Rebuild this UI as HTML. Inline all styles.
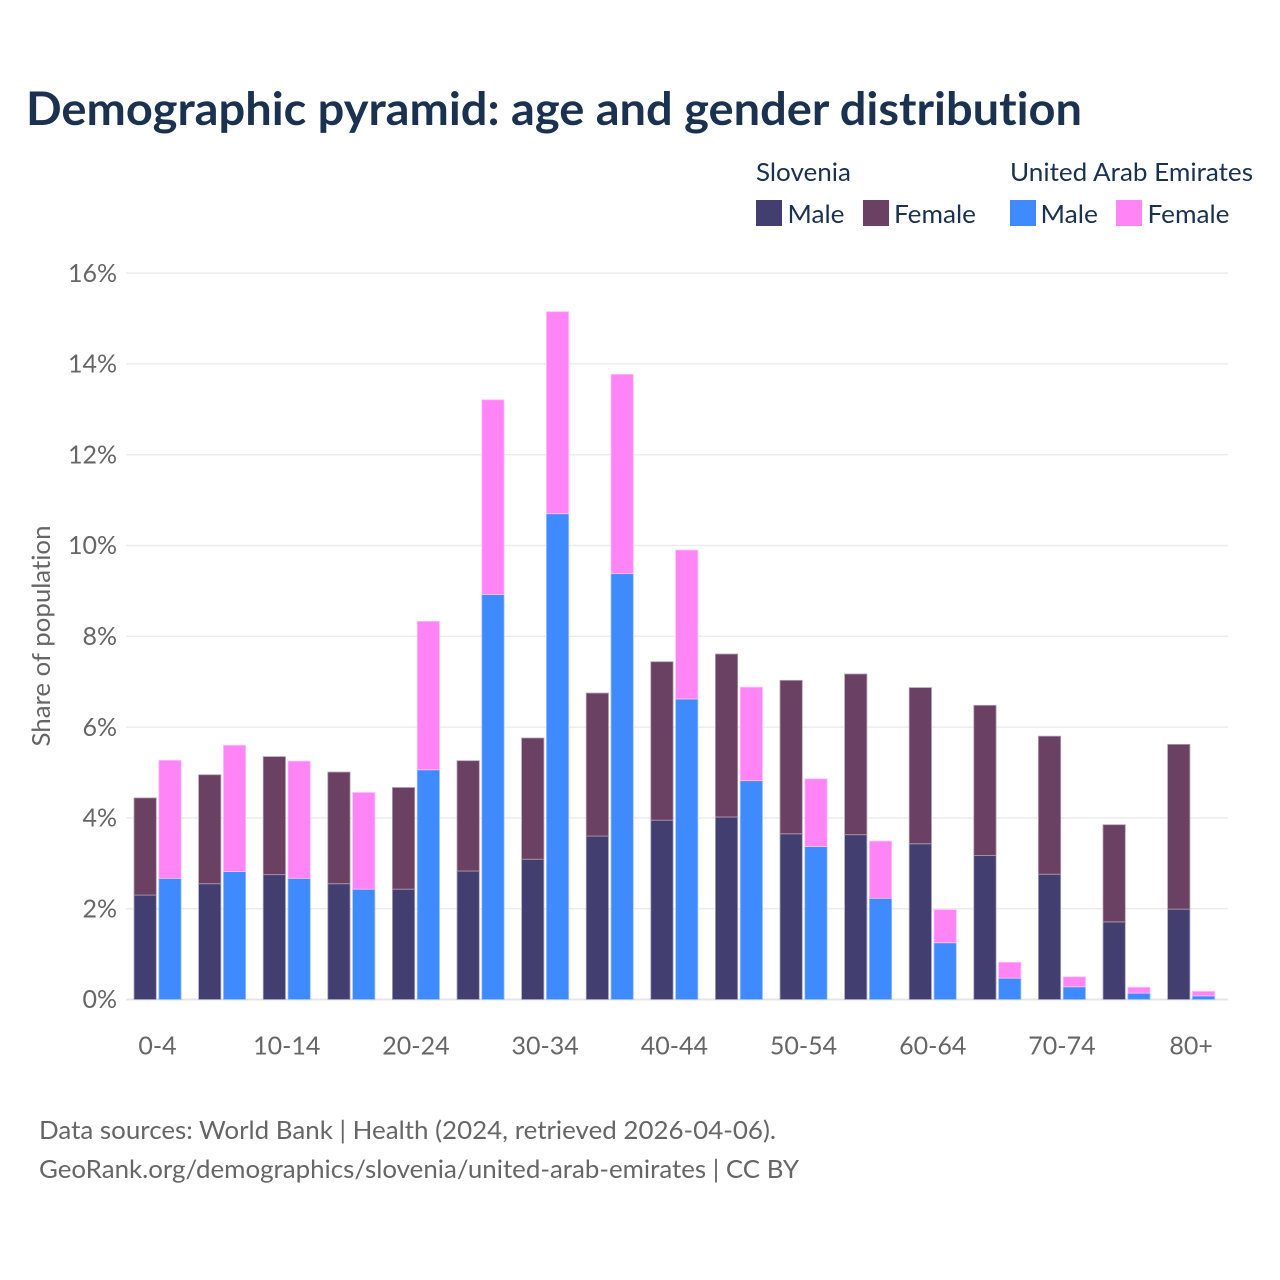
<!DOCTYPE html>
<html lang="en">
<head>
<meta charset="utf-8">
<title>Demographic pyramid</title>
<style>
html,body{margin:0;padding:0;background:#fff;width:1280px;height:1280px;overflow:hidden}
svg{display:block}
text{font-family:"Lato","Carlito","Liberation Sans",sans-serif;font-variant-ligatures:none;font-feature-settings:"liga" 0,"clig" 0}
</style>
</head>
<body>
<svg id="chart" xmlns="http://www.w3.org/2000/svg" width="1280" height="1280" viewBox="0 0 1280 1280">
  <rect width="1280" height="1280" fill="#ffffff"/>
  <text x="26" y="125" font-size="46" font-weight="700" fill="#1a3150" textLength="1056" lengthAdjust="spacingAndGlyphs">Demographic pyramid: age and gender distribution</text>

  <g font-size="25" fill="#1a3150">
    <text x="756" y="181" textLength="95" lengthAdjust="spacingAndGlyphs">Slovenia</text>
    <text x="1010" y="181" textLength="243" lengthAdjust="spacingAndGlyphs">United Arab Emirates</text>
    <g>
      <rect x="756" y="200" width="26" height="26" fill="#433e70"/>
      <text x="787.5" y="223" textLength="57" lengthAdjust="spacingAndGlyphs">Male</text>
    </g>
    <g>
      <rect x="863" y="200" width="26" height="26" fill="#6a4162"/>
      <text x="894" y="223" textLength="82" lengthAdjust="spacingAndGlyphs">Female</text>
    </g>
    <g>
      <rect x="1010" y="200" width="26" height="26" fill="#3f8aff"/>
      <text x="1040.5" y="223" textLength="57.5" lengthAdjust="spacingAndGlyphs">Male</text>
    </g>
    <g>
      <rect x="1116" y="200" width="26" height="26" fill="#ff85f7"/>
      <text x="1147.5" y="223" textLength="82" lengthAdjust="spacingAndGlyphs">Female</text>
    </g>
  </g>

  <text transform="translate(50,636) rotate(-90)" text-anchor="middle" font-size="25" fill="#666666" textLength="221" lengthAdjust="spacingAndGlyphs">Share of population</text>

  <g id="grid"></g>
  <g id="yticks" font-size="25" fill="#666666" text-anchor="end"></g>
  <g id="bars"></g>
  <g id="xticks" font-size="25" fill="#666666" text-anchor="middle"></g>

  <g font-size="25" fill="#666666">
    <text x="39" y="1139" textLength="737" lengthAdjust="spacingAndGlyphs">Data sources: World Bank | Health (2024, retrieved 2026-04-06).</text>
    <text x="39" y="1178" textLength="760" lengthAdjust="spacingAndGlyphs">GeoRank.org/demographics/slovenia/united-arab-emirates | CC BY</text>
  </g>
</svg>
<script>
const ageGroups = ["0-4","5-9","10-14","15-19","20-24","25-29","30-34","35-39","40-44","45-49","50-54","55-59","60-64","65-69","70-74","75-79","80+"];
const sloveniaMale = [2.30,2.55,2.75,2.55,2.43,2.83,3.09,3.60,3.95,4.02,3.65,3.63,3.43,3.17,2.76,1.71,1.99];
const sloveniaFemale = [2.14,2.40,2.60,2.46,2.24,2.43,2.67,3.15,3.49,3.59,3.38,3.54,3.44,3.31,3.04,2.14,3.63];
const uaeMale = [2.67,2.82,2.67,2.43,5.06,8.92,10.70,9.38,6.62,4.82,3.37,2.23,1.25,0.47,0.28,0.14,0.08];
const uaeFemale = [2.60,2.78,2.58,2.13,3.27,4.29,4.45,4.39,3.28,2.06,1.49,1.26,0.73,0.35,0.22,0.13,0.10];
const yTicks = [0,2,4,6,8,10,12,14,16];
const xTickLabels = ["0-4","10-14","20-24","30-34","40-44","50-54","60-64","70-74","80+"];

const SVG_NS = "http://www.w3.org/2000/svg";
const yScale = v => 999.5 - v * 45.4;
const xBand = i => 134 + i * 64.6;
const BAR_W = 22.3;
const UAE_OFFSET = 24.8;

const grid = document.getElementById("grid");
const yticksG = document.getElementById("yticks");
yTicks.forEach(function (t) {
  const line = document.createElementNS(SVG_NS, "line");
  line.setAttribute("x1", 126);
  line.setAttribute("x2", 1228);
  line.setAttribute("y1", yScale(t));
  line.setAttribute("y2", yScale(t));
  line.setAttribute("stroke", t === 0 ? "#e6e6e6" : "#ececec");
  line.setAttribute("stroke-width", t === 0 ? 2 : 1.5);
  
  
  grid.appendChild(line);

  const label = document.createElementNS(SVG_NS, "text");
  label.setAttribute("x", 117);
  label.setAttribute("y", yScale(t) + 8.7);
  label.textContent = t + "%";
  
  
  yticksG.appendChild(label);
});

const barsG = document.getElementById("bars");
function addBar(x, base, value, fill, stroke, name) {
  const r = document.createElementNS(SVG_NS, "rect");
  r.setAttribute("x", x);
  r.setAttribute("y", yScale(base + value));
  r.setAttribute("width", BAR_W);
  r.setAttribute("height", yScale(base) - yScale(base + value));
  r.setAttribute("fill", fill);
  r.setAttribute("stroke", stroke);
  r.setAttribute("stroke-width", 0.8);
  
  
  barsG.appendChild(r);
}
ageGroups.forEach(function (g, i) {
  const x1 = xBand(i);
  const x2 = x1 + UAE_OFFSET;
  addBar(x1, 0, sloveniaMale[i], "#433e70", "#a9a7bf", "bar-slovenia-male");
  addBar(x1, sloveniaMale[i], sloveniaFemale[i], "#6a4162", "#b5a0b1", "bar-slovenia-female");
  addBar(x2, 0, uaeMale[i], "#3f8aff", "#9fc4ff", "bar-uae-male");
  addBar(x2, uaeMale[i], uaeFemale[i], "#ff85f7", "#ffc2fb", "bar-uae-female");
});

const xticksG = document.getElementById("xticks");
ageGroups.forEach(function (g, i) {
  if (xTickLabels.indexOf(g) < 0) return;
  const t = document.createElementNS(SVG_NS, "text");
  t.setAttribute("x", xBand(i) + (BAR_W + UAE_OFFSET) / 2);
  t.setAttribute("y", 1054.5);
  t.textContent = g;
  
  
  xticksG.appendChild(t);
});
</script>
</body>
</html>
